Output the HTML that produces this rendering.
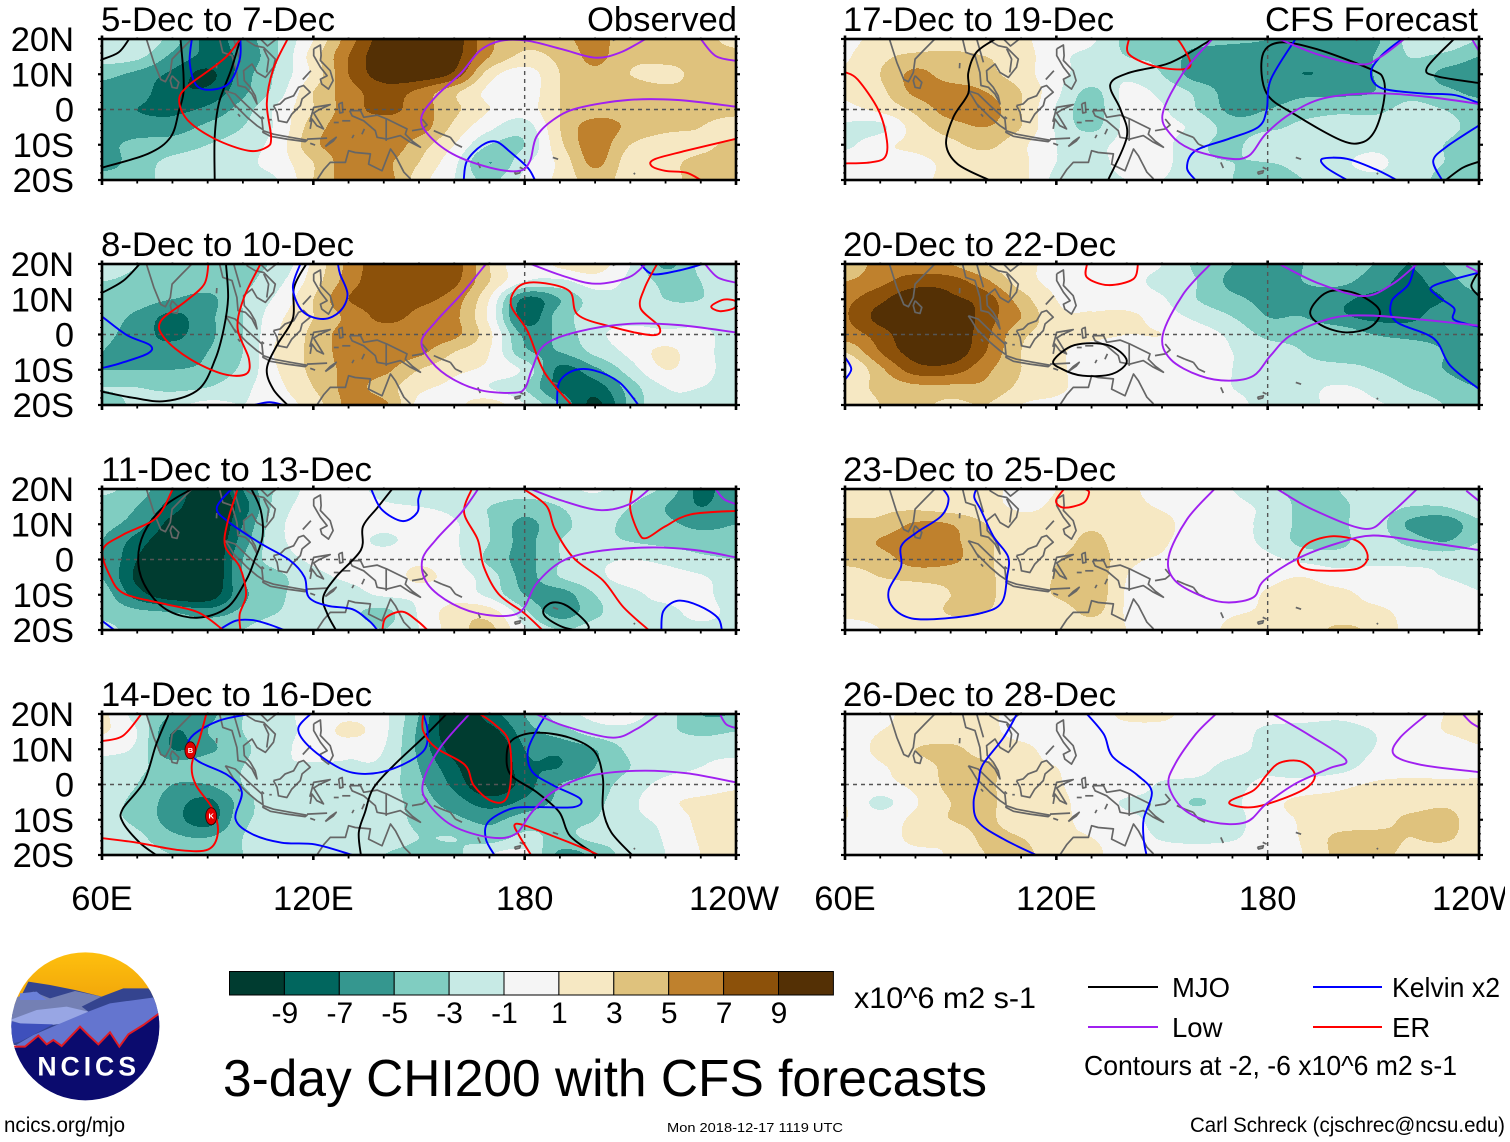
<!DOCTYPE html>
<html lang="en">
<head>
<meta charset="utf-8">
<title>3-day CHI200 with CFS forecasts</title>
<style>
html,body{margin:0;padding:0;background:#fff;width:1510px;height:1142px;overflow:hidden}
svg{display:block}
text{font-family:"Liberation Sans",sans-serif;fill:#000}
</style>
</head>
<body>
<svg id="chart" xmlns="http://www.w3.org/2000/svg" width="1510" height="1142" viewBox="0 0 1510 1142">
<rect x="0" y="0" width="1510" height="1142" fill="#fff"/>
<g id="panels"></g>
<g id="colorbar"></g>
<text x="854" y="1008" font-size="30" textLength="182" lengthAdjust="spacingAndGlyphs">x10^6 m2 s-1</text>
<text x="223" y="1096" font-size="51.5" textLength="764" lengthAdjust="spacingAndGlyphs">3-day CHI200 with CFS forecasts</text>
<g>
<line x1="1088" x2="1158" y1="987" y2="987" stroke="#000" stroke-width="2"/>
<text x="1172" y="997" font-size="27.5">MJO</text>
<line x1="1313" x2="1382" y1="987" y2="987" stroke="#0000ff" stroke-width="2"/>
<text x="1392" y="997" font-size="27.5" textLength="108" lengthAdjust="spacingAndGlyphs">Kelvin x2</text>
<line x1="1088" x2="1158" y1="1027" y2="1027" stroke="#a020f0" stroke-width="2"/>
<text x="1172" y="1037" font-size="27.5">Low</text>
<line x1="1313" x2="1382" y1="1027" y2="1027" stroke="#ff0000" stroke-width="2"/>
<text x="1392" y="1037" font-size="27.5">ER</text>
<text x="1084" y="1075" font-size="27.5" textLength="373" lengthAdjust="spacingAndGlyphs">Contours at -2, -6 x10^6 m2 s-1</text>
</g>
<g transform="translate(0,945) scale(.33333)">
<defs><clipPath id="logoClip"><circle cx="256" cy="244" r="222"/></clipPath>
<linearGradient id="sun" x1="0" y1="0" x2="0" y2="1"><stop offset="0" stop-color="#ffc20e"/><stop offset="1" stop-color="#f0a30a"/></linearGradient></defs>
<g clip-path="url(#logoClip)">
<rect x="20" y="10" width="480" height="170" fill="url(#sun)"/>
<polygon points="20,240 85,110 150,120 225,135 305,155 370,130 445,130 490,180 490,300 20,300" fill="#34448f"/>
<polygon points="30,230 40,160 100,140 150,160 225,138 305,155 245,185 265,200 30,250" fill="#7480b4"/>
<polygon points="60,145 110,140 140,165 60,165" fill="#6a80d8"/>
<polygon points="30,225 110,195 200,185 265,200 230,230 120,245 60,235" fill="#98a6e4"/>
<polygon points="20,225 60,235 160,238 60,290 20,300" fill="#3e50bc"/>
<polygon points="40,305 100,270 170,240 265,200 330,175 480,155 490,230 380,300 40,320" fill="#6475cf"/>
<path d="M20,312 L75,305 L115,272 L140,298 L160,285 L185,303 L240,245 L265,270 L295,298 L330,262 L358,305 L385,268 L430,240 L490,200 L490,480 L20,480 Z" fill="#0b0b6e"/>
<path d="M40,305 L75,305 L115,272 L140,298 L160,285 L185,303 L240,245 L265,270 L295,298 L330,262 L358,305 L385,268 L430,240 L478,205" fill="none" stroke="#e01b24" stroke-width="6"/>
<text x="112" y="392" font-size="80" font-weight="bold" style="fill:#fff" textLength="296" lengthAdjust="spacing">NCICS</text>
</g>
</g>
<text x="4" y="1132" font-size="21" textLength="121" lengthAdjust="spacingAndGlyphs">ncics.org/mjo</text>
<text x="667" y="1132" font-size="13" textLength="176" lengthAdjust="spacingAndGlyphs">Mon 2018-12-17 1119 UTC</text>
<text x="1190" y="1132" font-size="21" textLength="315" lengthAdjust="spacingAndGlyphs">Carl Schreck (cjschrec@ncsu.edu)</text>
<rect id="edgeMask" x="1505" y="880" width="5" height="40" fill="#fff"/>
</svg>
<script>
// ---------- axis data ----------
const gridLons = [60,70,80,90,100,110,120,130,140,150,160,170,180,190,200,210,220,230,240];
const gridLats = [20,15,10,5,0,-5,-10,-15,-20];
const latTickLabels = ["20N","10N","0","10S","20S"];
const latTickValues = [20,10,0,-10,-20];
const lonTickLabels = ["60E","120E","180","120W"];
const lonTickValues = [60,120,180,240];
const colorLevels = [-9,-7,-5,-3,-1,1,3,5,7,9];
const colorBands = ["#003c30","#01665e","#35978f","#80cdc1","#c7eae5","#f5f5f5","#f6e8c3","#dfc27d","#bf812d","#8c510a","#543005"];
const panelTitles = ["5-Dec to 7-Dec","8-Dec to 10-Dec","11-Dec to 13-Dec","14-Dec to 16-Dec","17-Dec to 19-Dec","20-Dec to 22-Dec","23-Dec to 25-Dec","26-Dec to 28-Dec"];

// ---------- CHI200 anomaly fields (rows 20N..20S, columns 60E..120W) ----------
const chiField1 = [
[-2.5,-1,-4,-7.5,-6,-3,1,6,10,10.5,10,5.5,3.5,4.5,5.5,4,3.5,3.5,2.5],
[-2,-2.5,-5.5,-7.5,-6.5,-3,2,7,10.5,11.5,9.8,5,2.5,3.5,5.5,3.5,3.5,3.5,3.5],
[-4.5,-5.5,-7.5,-9.5,-6,-2.5,1.5,7,10,10.5,8.5,2,0,3,4.5,3,2.5,3.5,3.5],
[-5.5,-6,-8.5,-8.5,-5.5,-2,3,6,8,6.5,3.5,0.5,-0.3,3,4,4,3.5,3.5,4],
[-6,-7,-7.5,-6.5,-4,-0.5,3,6,7.5,6,3.5,1,0,3,4,4.2,4,4,4],
[-6,-6,-6,-4.5,-3,-0.5,4,6,6,6,2.5,-0.5,-2,3,6,4.5,3.5,3,1.5],
[-5.5,-4.5,-4,-3,-2,0,4.5,6,6.5,4,1,-3,-3,2.5,6,3,2,2.5,3.5],
[-6,-4,-2.5,-2,-1.5,0,3,6,5.5,3,-0.5,-5,-1.5,1.5,5.5,2,2.5,3.5,3.5],
[-4,-4,-2,-1.5,-1.5,-1,3,6,6,2,-1,-3.5,-0.5,1.5,4,2,2.5,3.5,3.5]];
const chiField2 = [
[-1.5,-3,-3.5,-4,-3.5,-2.5,1.5,5.5,8.5,8.5,8,3,-0.5,1.5,2,-1,-5.5,-2.5,-1.5],
[-3,-3.5,-3.5,-4,-3.5,-1.5,2,6,8.5,8.5,7.5,3,-1,-1.5,0,-1.5,-3.5,-3,-1],
[-3.5,-4,-5,-5.5,-3,-0.5,3,7,8,7.5,6,1,-7.5,-5,-2,-1.5,-3,-3,-2],
[-4,-5.5,-7.5,-5.5,-3,0.5,3,5.5,7.5,6.5,5.5,0.5,-8,-4,-2,-1.5,-2,-2,-2],
[-4.5,-6,-7.5,-5.5,-3,1,3.5,6,6,6,5.5,1.5,-5.5,-4.5,-1.5,-0.5,-0.5,-0.5,-2],
[-5,-6,-6,-5,-3,1.5,3.5,6,6,5.5,3,1,-4.5,-5,-2.5,-0.5,1.5,-0.5,-1.5],
[-5,-5,-5,-4.5,-2.5,1,3.5,5.5,5.5,3,1.5,0.5,-1.5,-7.5,-5.5,-2,1,-0.5,-1.5],
[-3,-3,-3.5,-3,-1.5,0.5,3,5.5,4,1.5,0.5,-1,-3,-7.5,-8,-4,-1,-1,-1.5],
[-4,-2.5,-1.5,-0.5,-1,0,2,5.5,5.5,0.5,0.5,2,-1,-5,-9.5,-4.5,-1.5,-1.5,-1.5]];
const chiField3 = [
[-2.5,-4,-7,-11,-7,-2.5,-0.5,-0.5,-1.5,-2.5,-2,-1.5,-2,-1.5,-0.8,-2,-3.5,-7.5,-5.5],
[-4,-5,-8,-11,-8,-2,-0.5,-0.5,-0.8,-1,-1.5,-3,-4,-3,-2,-3,-5,-7,-5.5],
[-4.5,-6,-10,-12,-7,-1.5,-0.5,-0.5,-0.7,-0.5,-0.8,-3,-5.5,-3.5,-2.5,-3.5,-4.5,-5.5,-5],
[-5,-8,-11,-12,-6,-1.5,-0.5,-0.5,-1.2,-0.5,-0.8,-3,-5.5,-3,-2.5,-3,-3.5,-4,-4],
[-5,-9,-12,-12,-5,-2,-0.7,-0.3,-0.2,0.5,-0.5,-3.5,-5.5,-3,-1.5,-1,-1.5,-2.5,-3],
[-5,-9.5,-12,-12,-5,-3.5,-1.5,-0.8,-0.5,1.5,0,-2,-5.5,-3,-1.5,-0.3,-0.3,-0.8,-2],
[-4,-8,-10.5,-10.5,-5.5,-3.5,-1.5,-1.5,-0.8,-0.5,0,-1.5,-5,-6,-3,-1.5,-0.5,-0.5,-2],
[-3.5,-4.5,-5,-6,-4.5,-3,-1.5,-2.5,-3.5,-0.8,2,2,-2.5,-6,-3.5,-1.5,-1.5,-0.5,-1.5],
[-2.5,-3.5,-3.5,-3.5,-3,-1.5,-2,-1.5,-3,-1,2,3.5,-0.8,-3,-2,-1.5,-1.5,-1.5,-1.5]];
const chiField4 = [
[1.5,-2,-5,-5.5,-3,-1.5,-0.5,0.5,-0.5,-5,-11,-8,-5,-2,-0.5,-0.5,-2,-5,-5],
[1.2,-1,-7,-5,-3,-1.5,-0.5,1.5,-0.5,-5.5,-11,-10,-6,-4,-2,-1.5,-2.5,-3.5,-3],
[-0.5,-1.5,-7,-5.5,-3.5,-1.5,-0.5,-0.5,-1,-5.5,-10,-12,-7,-6.5,-5,-2.5,-1.5,-1.5,-1.5],
[-1.5,-2.5,-4,-3.5,-3,-1.2,-1.2,-1.2,-1.5,-5,-8.5,-12,-7.5,-7,-5,-3,-1.5,-1,-0.5],
[-2,-3,-5,-5,-3,-1.5,-1.5,-1.5,-2,-4.5,-7.5,-11,-8,-5,-4,-2,-0.5,-0.3,0.5],
[-2.5,-3.5,-6,-7.5,-4,-1.5,-2.5,-2,-2,-4,-6,-8,-6.5,-4.5,-3.5,-1.5,0.5,1.5,2],
[-2.5,-3.5,-6,-8,-3.5,-2.5,-2.5,-2,-2,-3.5,-4.5,-5.5,-4,-3.5,-3,-1.5,-0.5,1.5,2],
[-1.5,-2.5,-4.5,-5,-3,-1.5,-2.5,-1.5,-2,-3,-3,-4,-2.5,-3.5,-2.5,-2,-0.8,1.2,1.5],
[-1.5,-2,-3,-3.5,-3,-1.5,-1.5,-1.5,-3,-3.5,-3.5,-1,-0.5,-5.5,-4.5,-2,-1,1,1.2]];
const chiField5 = [
[0.5,1.5,1.5,2,1.5,1.5,-0.5,-0.7,-3.5,-3.5,-4,-4.5,-5,-5.5,-6,-5.5,-2.5,-1.5,-3],
[0.8,2.5,3.5,3.5,3,2,-0.5,-1.5,-3,-3.5,-6,-6.5,-6,-6,-6,-5,-3,-3.5,-5],
[1.2,3,5.5,4,3.5,2,-0.5,-1.5,-1.5,-3,-6,-6,-6,-7,-6.5,-5,-3.5,-5.5,-6],
[1.2,2.5,5.5,6,5,3,-0.5,-3.5,-0.5,-1.5,-3.5,-6,-6,-5.5,-5.5,-5,-3.5,-4.5,-5.5],
[0.5,1.5,3.5,6,6,3,-1.2,-4,-0.5,-0.8,-3,-5.5,-5,-4,-3.5,-3.5,-2.5,-3,-4],
[-1.5,-1.5,2,4,5,3,-1.2,-3.5,-0.5,-0.5,-1.5,-4,-3.5,-2.5,-2,-2,-2,-2.5,-3.5],
[-1.5,0.5,1.5,2.5,3.5,1.5,-1,-1.5,-0.5,-0.5,-2.5,-3.5,-1.5,-2.5,-2,-1.5,-2,-3,-4],
[0.5,0.5,0.5,1.5,2,1.5,-1,-1.5,-0.5,-0.5,-2.5,-3,-3,-2.5,-1.5,-0.5,-2,-3,-4],
[0.5,0.5,0.5,1.5,1.5,1.5,-1.5,-1.5,-1,-1,-2,-3,-3.5,-3,-2,-1.5,-2,-3.5,-3.5]];
const chiField6 = [
[3,6,6,5,3,1.5,0.5,-0.5,-0.5,-1,-3.5,-5,-7,-5,-4,-5,-7,-5,-4],
[5,6.5,8,8,5.5,2,0.5,0.3,-0.5,-1.5,-3,-5.5,-5.5,-5,-4.5,-6,-7.5,-6,-4],
[6.5,8.5,10.8,9.5,8,4,1,0.5,-0.2,-0.8,-3,-4.5,-5.5,-5.5,-6.5,-7.5,-7.5,-7,-5.5],
[6.8,9.8,11.5,11,8,5,1.5,1.2,1.5,0,-1.5,-3,-5,-5,-6.5,-7.5,-7.5,-6,-5.5],
[6,8,11,11,7.5,3.5,2,1.5,1,1,0,-1.5,-3.5,-3.5,-3.5,-5,-5.5,-5.5,-5.5],
[3,7,10,10.5,7,3,1.5,0,0,0,0,-1,-2,-3,-3.5,-3.5,-4,-5,-6],
[0.5,4.5,8,8,5.5,3,1.5,0,0,0,0,-1,-2,-2.5,-2.5,-3,-4,-5,-6],
[2,3.5,4.5,4.5,4.5,2.5,1.5,0,0,0,0,-1,-1.5,-1.5,-0.8,-1.5,-3,-4,-5],
[1.5,3,3.5,2.5,3,1,0.5,0,0,0,0,-0.5,-1.5,-1.5,-0.5,-0.8,-1.5,-3,-3.5]];
const chiField7 = [
[1.5,1.5,1.5,1.5,1.5,0.5,1,1.5,1.5,0,0,-1,-2.5,-3.5,-3,-1.5,-1.5,-1.5,-1.5],
[2,2.5,2.5,2,1.5,0.8,1.2,1.5,1.5,0.8,0,-0.5,-1.5,-3.5,-3.5,-2,-3,-3,-1.5],
[3.5,3.5,5.3,5,3,1.5,1.5,2.5,1.5,1.5,0,-0.5,-1.5,-3.5,-3.5,-2,-5.3,-6.5,-3.5],
[3.5,5.2,6.5,5.5,3.5,1.5,1.5,3.8,1.2,1.2,0,-0.3,-1.5,-3.5,-3.5,-2,-3.5,-5,-3],
[3.5,4,6,5.5,3.5,1.5,2.8,4.5,1.5,0.8,0,0,-0.5,-1.5,-2,-1.5,-1.5,-1.5,-1.5],
[2,3,3.5,3.5,3.5,1.5,3.2,4.5,1,0,0,0,0.5,1,0,0,-0.5,-1,-1.5],
[1.5,1.5,2,3,3.5,1.5,3.2,4.5,0.8,0,0,0,1.2,1.5,1.5,0.5,0,0,-0.8],
[1.5,1.5,1.5,3.2,3,1.5,1.5,3.5,0.8,0,0,0.8,1.2,1.5,1.5,1.5,0.5,0,0],
[0,1,1.5,1.5,1.5,1.2,1.5,1.5,1,0,0,1.5,1.5,1.5,3.5,2.5,0.5,0,0]];
const chiField8 = [
[-0.9,0.5,1.5,1.5,1.5,0,0,0,1.5,1.5,0,0,0,0,-0.5,0,0,1,1.5],
[0,1,1.5,1.5,1.5,0.3,0,0,0.2,0.2,0,0,-1.5,-2,-2,-1,0,1,1.5],
[0,1.5,3,3.5,2,1.5,0.3,0,0,0,0,-0.5,-1.5,-2,-2,-1,0,0,0.8],
[0,0.8,2,3.5,3.5,1.5,1,0,0,0,-0.5,-1.5,-1.5,-2,-1.8,-0.3,0,0,0],
[0.5,0.5,1.5,3.5,3.5,1.5,1.2,0,0,-1.2,-1.5,-1.5,-0.5,-0.3,0.5,1.2,1.5,1.5,1.5],
[1,-1.5,0.8,3,3.5,1.5,1.5,0,-1.2,-1.5,-3.2,-1.5,0.3,1.5,1.5,1.5,1.5,2.5,1.5],
[1,0,1.5,3,3.5,1.5,1.5,0.3,-0.5,-1.5,-1.5,-1.5,0,1.2,1.5,1.5,3.6,4,1.5],
[0,0,1.5,1.5,3.5,3,1.5,1,0,-1.2,-1.5,-1.2,0,1.2,3.5,4,3,3.5,1.5],
[0,0,0.5,1.2,3,3.5,2,1.5,0,0,0,0,0,1,3.5,3.6,2.5,1.5,1.5]];

// ---------- contour lines, [lon, lat] ----------
const mjo1 = [[[60,14.2],[64.7,16.2],[67.7,20]],[[82.3,20],[83.1,10.4],[83.1,4.6],[81.9,-0.2],[79.5,-7.8],[73,-12.6],[60,-16.5]],[[99.3,20],[96.7,11.4],[93.2,1.8],[92,-7.8],[92,-20]]];
const kelvin1 = [[[85.5,20],[84.9,13.3],[86.7,7],[90.8,5.6],[96.1,7.5],[99.1,14.2],[99.3,20]],[[162.7,-20],[163.6,-14.6],[167.8,-10.2],[171.9,-9.1],[176.1,-12.2],[180.9,-16.5],[182.9,-20]]];
const er1 = [[[99.3,20],[95.5,15.2],[90.8,11.4],[84.3,6.6],[81.9,2.7],[84.3,-3],[92,-8.3],[101.5,-11.7],[106.8,-10.7],[108,-7.8],[106.8,1.8],[108.6,11.4],[112.7,20]],[[240,-8.3],[225.8,-11.7],[216.9,-14.1],[216,-16],[219.9,-17.4],[225.8,-17.9],[230,-20]]];
const low1 = [[[214.3,20],[207.2,16.2],[200.1,14.7],[190.6,17.1],[180.9,19.5],[173.2,19.5],[167.3,16.7],[162,10.4],[154.8,3.7],[150.7,-2.1],[152.4,-6.9],[159.5,-12.6],[170.2,-16.5],[178.5,-17.4],[181.5,-14.6],[183.3,-7.8],[188,-3],[195.1,0.4],[209.3,2.7],[223.5,2.7],[240,0.8]],[[230,20],[234.2,15.2],[240,13.8]]];

const mjo2 = [[[60,11.8],[66,15.2],[70.7,20]],[[95.2,20],[95.8,10.4],[94.6,1.8],[92.2,-6.9],[87.5,-15.5],[78,-18.9],[68.5,-17.9],[60,-16.2]],[[118,20],[114.5,13.3],[114.2,4.6],[109.7,-3],[106.8,-9.8],[108.6,-15.5],[112.7,-20]]];
const kelvin2 = [[[60,5.1],[67.1,-0.2],[73.6,-3],[73,-5.4],[64.7,-8.3],[60,-9.5]],[[116.3,20],[114.2,13.3],[116.9,6.6],[122.8,4.4],[127.6,6.6],[129.7,11.4],[127.6,17.1],[127,20]],[[103.3,-20],[107.5,-19.2],[111.6,-20]],[[189.2,-20],[189.8,-13.6],[193.9,-10.2],[199.8,-10.2],[206.9,-13.6],[212.3,-20]],[[212.9,20],[216.4,17.1],[223.5,18.1],[230.6,20]]];
const er2 = [[[90.2,20],[89,14.2],[83.7,9.4],[76.6,3.7],[77.8,-1.1],[84.9,-6.9],[94.4,-11.2],[100.9,-11.2],[101.7,-6.9],[98.5,1.8],[100.3,10.4],[105,20]],[[193.3,-20],[185.6,-10.7],[180.9,0.8],[176.1,8.5],[178.5,13.8],[184.4,14.7],[192.7,12.3],[195.1,5.6],[204.6,2.2],[216.4,-0.2],[218.2,2.2],[212.9,7.5],[214.1,13.3],[217.6,20]],[[233,8],[236.6,9.9],[240,9.4],[239.5,7.5],[235.4,6.6],[233,8]]];
const low2 = [[[181.7,20],[190.6,16.7],[200,14.4],[209.5,16.2],[214.3,20]],[[169,20],[162,11.4],[154.8,3.7],[150.7,-2.1],[153.6,-7.8],[159.5,-12.6],[167.8,-15.9],[177.3,-16.5],[180.2,-15],[182.1,-9.8],[185.6,-3],[195.1,0.8],[209.3,3],[223.5,2.7],[240,0.6]],[[231.2,20],[234.8,16.2],[240,14.7]]];

const mjo3 = [[[85.5,20],[77.8,15.2],[71.9,7.5],[70.3,-1.1],[73,-8.8],[79,-14.6],[87.3,-16.5],[95.6,-13.6],[100.9,-5.9],[103.3,-0.2],[105.6,6.6],[105,14.2],[102.4,20]],[[142.4,20],[138.2,14.7],[134.1,9.4],[133.5,2.7],[126.4,-5],[122.8,-10.7],[124,-15.5],[126.4,-20]],[[185.4,-14.1],[188,-12.2],[192.1,-13.2],[197.5,-17.9],[197.5,-20],[191.5,-19.4],[186.2,-16.5],[185.4,-14.1]]];
const kelvin3 = [[[60,-17.4],[63.5,-20]],[[96.7,20],[92.6,14.7],[95.6,10.9],[105,4.6],[113.3,-0.2],[117.5,-5],[118.7,-10.7],[124,-13.1],[131.1,-14.1],[135.8,-17.4],[138.2,-20]],[[136.4,20],[139.4,14.2],[145.3,10.9],[149.5,13.3],[149.8,17.1],[150.7,20]],[[93.2,-20],[97.9,-17.4],[102.7,-17.2],[107.4,-18.4],[111.6,-20]],[[218.8,-20],[219.4,-14.6],[223.5,-11.7],[229.5,-13.1],[234.8,-16.5],[236,-20]]];
const er3 = [[[80.1,20],[75.4,11.8],[65.9,7],[60.2,2.7],[62.4,-5],[66.5,-9.8],[77.8,-12.6],[87.3,-15],[94.4,-20]],[[98.5,20],[95.6,10.4],[95,3.7],[99.1,-2.1],[100.9,-9.8],[99.1,-15.5],[99.3,-20]],[[139.6,-20],[140.6,-16.5],[145.3,-14.8],[149.5,-17.4],[152.4,-20]],[[165,20],[162.8,13.3],[166.7,5.6],[168.4,-2.1],[172.6,-9.8],[179.7,-15.1],[185,-20]],[[179.7,20],[186.2,15.2],[188.6,8.5],[194,0.3],[202.2,-5.9],[208.1,-13.6],[215.2,-20]],[[210.6,20],[210,14.2],[212.4,7.5],[214.6,6.1],[219.9,9.4],[227.1,12.8],[240,13.8]]];
const low3 = [[[181.7,20],[190.6,16.7],[201.3,14],[209.5,15.6],[215.4,20]],[[166.8,20],[162,13.3],[154.8,5.6],[150.9,-0.2],[152.4,-6.9],[159.5,-12.6],[169,-15.7],[178.5,-15],[183.3,-6.9],[190.4,-0.6],[199.8,2.2],[215.2,3.4],[228.2,2.7],[240,0.6]],[[234.2,20],[236.6,17.1],[240,15.7]]];

const mjo4 = [[[79,20],[75.4,11.4],[71.9,0.8],[65.9,-6.9],[65.9,-10.7],[70.7,-16.5],[75.4,-20]],[[157.8,20],[151.2,13.3],[143,5.6],[137,-1.1],[134.7,-7.8],[132.9,-13.6],[133.5,-20]],[[200.4,-20],[192.9,-14.6],[189.8,-7.8],[183.3,-2.1],[176.1,2.7],[174.9,8.5],[176.7,12.8],[183.3,14.7],[192.7,13.3],[199.8,9.4],[202.2,1.8],[202.2,-6.9],[204.6,-13.6],[210.5,-20]]];
const kelvin4 = [[[102,20],[93.2,18.1],[86.1,14.2],[84.3,10.4],[87.3,6.6],[95.6,2.7],[99.7,-2.1],[97.9,-9.8],[102.7,-14.1],[111,-16.5],[120.5,-17],[131.1,-20]],[[119.2,20],[115.7,15.7],[119.2,10.4],[127.6,4.6],[134.7,3],[143,4.6],[151.2,9.4],[152.4,15.2],[151.2,20]],[[186.2,20],[183.3,15.2],[180.9,9.4],[182.1,3.7],[188,-0.2],[195.7,-4],[194,-6.4],[183.3,-6.4],[176.1,-6.9],[169.6,-10.7],[169,-15.5],[171.4,-20]]];
const er4 = [[[60,12.3],[65.9,13.8],[71.2,20]],[[89.6,20],[87.8,13.3],[85.5,5.6],[86.7,-0.2],[91.4,-6.9],[92.9,-13.6],[90.2,-18.4],[81.9,-18.6],[70,-16.5],[60,-15.2]],[[151.2,20],[151.2,15.2],[154.8,10.4],[163,5.6],[165.5,-0.2],[170.2,-4.5],[174.4,-4.5],[176.1,1.8],[175.5,12.3],[171.4,17.1],[167.3,20]],[[181.8,-20],[178.5,-14.6],[177.1,-11.5],[179.7,-11.5],[188,-14.6],[196.3,-17.9],[201,-20]]];
const low4 = [[[183.3,20],[191,16.7],[204.6,13.3],[211.7,15.7],[218,20]],[[164.3,20],[156,10.4],[151.2,0.8],[152.4,-5],[159.5,-11.7],[170.2,-15],[177.3,-14.1],[182.1,-7.8],[188,-2.1],[197.4,2.2],[211.7,3.9],[225.9,3.2],[240,0.6]],[[235.4,20],[237.2,17.1],[240,16]]];

const mjo5 = [[[102.7,20],[97.3,16.2],[95,10.4],[95,4.6],[90.8,-2.1],[88.7,-9.8],[92,-15.5],[100.9,-20]],[[164.3,20],[152.4,13.3],[140.6,10.4],[135.3,7],[138.3,-0.2],[140,-7.8],[134.7,-20]],[[183.3,19],[178.5,15.2],[179.7,4.6],[188,-1.6],[201,-8.8],[206.9,-9.3],[210.5,-5.9],[212.9,1.8],[212.9,8.5],[209.3,11.4],[194,17.1],[183.3,19]],[[232.9,20],[225.2,11.8],[228.2,9.4],[240,7.5]],[[230.6,-20],[235.4,-16.5],[240,-14.8]]];
const kelvin5 = [[[187.9,20],[180.9,8.5],[179.7,-0.2],[177.3,-5],[169,-8.3],[159.5,-11.7],[157.1,-16.5],[159.5,-20]],[[218.1,20],[212.2,15.2],[209.3,10.4],[212.2,6.1],[223.5,4.6],[233,4.1],[240,1.8]],[[216.6,-20],[210.7,-17],[202.5,-14],[195.5,-14],[196.7,-16.5],[202.5,-20]],[[240,-4.5],[230.6,-10.7],[227,-14.6],[229.5,-20]]];
const er5 = [[[60,10.6],[63.6,8.5],[69.5,-0.2],[71.9,-8.8],[71.3,-13.6],[67.1,-15],[60,-15.3]],[[140.6,20],[140.6,15.7],[147.7,12.3],[156,11.4],[158.1,13.3],[154.8,19.5],[153,20]]];
const low5 = [[[183.3,20],[194,15.7],[206.4,12.8],[211.7,14.7],[218.8,20]],[[164.3,20],[156,10.4],[150.2,-1.1],[152.4,-7],[158.1,-11.2],[168.7,-13.9],[174.7,-13.1],[179.4,-7],[186.6,-1.1],[196,3.2],[210.2,4.6],[224.4,3.7],[240,1.6]],[[238,20],[240,16.6]]];

const mjo6 = [[[192.1,6.6],[196.9,12],[204.6,11.8],[211.7,7],[209.3,2.2],[202.2,0.6],[195.1,2.7],[192.1,6.6]],[[119.2,-7.4],[125.2,-3],[134.7,-3],[140,-7.4],[135.8,-11.2],[127.5,-11.7],[121.6,-9.8],[119.2,-7.4]],[[240,18],[237.8,13.8],[240,10.9]]];
const kelvin6 = [[[60,-6.4],[61.8,-9.8],[60,-12.8]],[[221.8,20],[220,14.2],[215.2,9.4],[216.4,3.7],[227.1,-1.1],[231.8,-8.8],[240,-15.5]],[[240,17.6],[227,13.8],[228.2,10.9],[232.9,7.5],[232.9,4.2],[240,2.2]]];
const er6 = [[[128.7,20],[128.7,16.2],[134.7,14],[141.8,15.7],[143.2,20]]];
const low6 = [[[183.3,20],[194,14.7],[207,10.9],[215.3,14.2],[222.4,20]],[[163.8,20],[156,11.4],[150.2,-0.2],[152.4,-7],[160.7,-11.7],[169,-13.1],[176,-11.7],[180.9,-5.9],[186.6,-0.2],[198,4.6],[208.6,5.4],[224,4.2],[240,2.5]],[[236.4,19.5],[240,17.6]]];

const mjo7 = [];
const kelvin7 = [[[87.8,20],[89.4,17.1],[87.3,12.3],[80.1,7.5],[75.9,3.7],[75.9,-2.1],[72.4,-8.8],[73.6,-13.6],[78.9,-16.7],[88.4,-16.7],[99.1,-15.1],[104.5,-12.2],[106,-5],[106.3,0.8],[102.1,6.6],[98.5,14.2],[96.7,17.6],[97.3,20]]];
const er7 = [[[122.2,20],[119.9,16.6],[122.2,14.7],[127.6,16],[129.3,19],[128.1,20]],[[188.6,0.3],[191.5,4.6],[198.6,6.6],[205.7,5.1],[208.4,0.8],[205.7,-2.5],[197.5,-3.2],[190.4,-2.5],[188.6,0.3]]];
const low7 = [[[182.7,20],[192.7,14.2],[207.5,8.7],[214,12.3],[222.4,20]],[[164.9,20],[157.1,11.4],[151.9,0.8],[153.6,-5.9],[162,-10.7],[169,-12.2],[176,-10.7],[179,-5.9],[188.6,0.3],[199.8,4.6],[209.9,6.8],[223.5,5.1],[240,2.7]],[[236.4,19.5],[240,16.6]]];

const mjo8 = [];
const kelvin8 = [[[108.8,20],[105,13.3],[99.1,5.6],[97.9,0.8],[96.5,-5],[97.9,-10.7],[105,-15.5],[114.3,-20]],[[128.7,20],[133.5,14.2],[135.9,8],[143,2.7],[147.1,-2.1],[144.8,-9.8],[144.8,-15.5],[145.6,-20]]];
const er8 = [[[169.6,-4.5],[176.1,-1.6],[179.7,2.7],[183.3,6.1],[189.2,6.6],[193.3,3.2],[191.5,-0.6],[184.4,-4],[176.1,-6.4],[170.2,-5.9],[169.6,-4.5]]];
const low8 = [[[181.5,20],[191.5,14.2],[202.2,7],[197.5,4.6],[188,0.3],[179.7,-5.4],[173.8,-10.7],[164.3,-10.7],[156,-6.9],[151.9,-0.2],[153.6,5.6],[159.5,14.2],[165.3,20]],[[225.3,20],[217.6,13.3],[215.8,8.5],[223.5,5.6],[240,3.5]],[[235.4,20],[237.7,17.6],[240,16.2]]];

// ---------- geography, [lon, lat] ----------
const coastlines = [
[[72.6,20],[74.7,13.4],[76.7,8.5],[78,7.9],[79.4,10.5],[79.9,14.3],[82.7,17.2],[85.5,20]],
[[79.9,9.6],[81.8,7.7],[81.3,6],[79.9,6.3],[79.4,8.2],[79.9,9.6]],
[[92.6,13.2],[92.5,11.7]],
[[93.4,20],[94.3,16.2],[96.9,15.3],[98.3,10.5],[98.6,6.8],[100.7,6.3],[102.6,4.4],[104,1.6],[103.5,3.9],[102.1,6.3],[100.4,8.2],[100.2,11],[102.6,12.9],[104,10.5],[106.4,9.1],[108.7,12],[109.2,14.3],[105.9,17.6],[103.5,18.1],[101.2,19.5],[101.2,20]],
[[97.4,20],[99.3,13.4]],[[105.9,17.2],[107.3,14.3],[106.8,10.5]],[[105,20],[107,18],[109.5,20]],
[[95,5.3],[97.8,4.4],[101.2,1.1],[105.4,-2.7],[105.7,-5.7],[104,-4.6],[101.2,-2.2],[97.4,1.6],[96,3.9],[95,5.3]],
[[97.5,1.5],[98,0.5]],[[98.6,-1.3],[99.2,-2]],[[105.3,-2],[106,-2.6]],[[107.5,-2.9],[108.2,-2.9]],
[[105.7,-6],[108.7,-7],[113.5,-7.9],[118.2,-8.7],[117.7,-9.1],[112.5,-8.4],[107.8,-7.6],[105.7,-6.5],[105.7,-6]],
[[118.2,-8.4],[123.9,-8.1]],[[123.4,-10.5],[125.7,-8.9],[126.5,-7.9],[124.8,-9.1],[123.4,-10.5]],[[119.1,-9.6],[120.5,-10.1]],
[[108.7,1.1],[110.6,1.6],[112,3],[114.4,3.9],[115.8,6.3],[117.2,6.8],[119.1,4.9],[116.8,3],[116.3,1.1],[113.9,-1.3],[112.5,-3.7],[110.1,-3.2],[109.7,-0.8],[108.7,1.1]],
[[117,8.5],[119.3,11]],
[[120.1,17.2],[122,18.3],[122.2,15.3],[122,13.9],[124.8,11],[125.6,8.2],[124.3,5.8],[122.4,7.2],[122,8.6],[123.9,9.6],[122,12],[120.1,15.3],[120.1,17.2]],
[[119,-3.5],[120.1,0.6],[124.8,1.4],[121.5,-0.1],[120.1,-1],[122.9,-5.5],[121,-4.6],[119.6,-2.7],[119.1,-5.5]],
[[127.2,1.6],[128.2,2],[128.4,-0.8],[127.5,-1],[127.2,1.6]],
[[128.2,-3.2],[130.5,-3.2]],[[125.8,-3.7],[127.2,-3.7]],[[133.8,-7],[134.5,-5.5]],[[131,-8.1],[131.5,-7.2]],
[[130.3,-0.3],[133.4,-0.3],[134.3,-2.2],[138.1,-1.6],[140.9,-2.7],[146.6,-5.5],[146.1,-7],[148,-8.9],[150.4,-10.7],[147.6,-9.3],[144.7,-7.4],[140.9,-8.4],[138.1,-7.9],[137.6,-6],[134.3,-3.2],[131,-1.8],[130.3,-0.3]],
[[140.7,-2.5],[140.7,-8.9]],
[[148,-6],[150.9,-5.5],[152.3,-4.4],[150.9,-2.7]],
[[154.2,-6],[156.5,-7]],[[156.5,-7],[158.9,-7.9]],[[158.9,-7.9],[160.3,-9.8]],[[160.3,-9.8],[162.2,-10.7]],
[[166.7,-15],[167.4,-16.6]],
[[177.1,-17.8],[178.8,-17.4],[178.6,-18],[177.4,-18.3],[177.1,-17.8]],[[178.6,-16.4],[179.7,-16.9]],
[[121,-20],[123,-17],[124.8,-15],[129.1,-15],[130,-11.7],[131.9,-12.2],[136.2,-12.6],[135.7,-15.5],[139.5,-17.4],[141.9,-11.2],[143.3,-13.1],[145.7,-17.8],[147.6,-19.7]],
[[188,-13.6],[189.5,-14.1]],[[211,-18],[211.3,-18.4]],[[205,19.6],[206,20]]
];
const stormNames = ["B","K"];
const stormLons = [85.1,91];
const stormLats = [9.7,-9];

// ---------- scales and helpers ----------
const panelW = 634, panelH = 141;
const panelXs = [102,102,102,102,845,845,845,845];
const panelYs = [39,264,489,714,39,264,489,714];
const SVGNS = "http://www.w3.org/2000/svg";
const root = document.getElementById("panels");
function xScale(lon, i){ return panelXs[i] + (lon-60)/180*panelW; }
function yScale(lat, i){ return panelYs[i] + (20-lat)/40*panelH; }
function make(tag, attrs, parent){
  const el = document.createElementNS(SVGNS, tag);
  for (const k in attrs) el.setAttribute(k, attrs[k]);
  parent.appendChild(el);
  return el;
}
function crHermite(a,b,c,d,t){
  return 0.5*((2*b)+(-a+c)*t+(2*a-5*b+4*c-d)*t*t+(-a+3*b-3*c+d)*t*t*t);
}
function bandIndex(v){
  let k = 0;
  while (k < colorLevels.length && v >= colorLevels[k]) k++;
  return k;
}
function smoothPath(pts, i){
  const p = pts.map(q => [xScale(q[0], i), yScale(q[1], i)]);
  const n = p.length;
  const closed = n > 3 && p[0][0] === p[n-1][0] && p[0][1] === p[n-1][1];
  const at = j => {
    if (closed) { const m = n-1; return p[((j%m)+m)%m]; }
    return p[Math.max(0, Math.min(n-1, j))];
  };
  let d = "M" + p[0][0].toFixed(1) + " " + p[0][1].toFixed(1);
  for (let j = 0; j < n-1; j++) {
    const a = at(j-1), b = at(j), c = at(j+1), e = at(j+2);
    d += "C" + (b[0]+(c[0]-a[0])/6).toFixed(1) + " " + (b[1]+(c[1]-a[1])/6).toFixed(1) + " "
      + (c[0]-(e[0]-b[0])/6).toFixed(1) + " " + (c[1]-(e[1]-b[1])/6).toFixed(1) + " "
      + c[0].toFixed(1) + " " + c[1].toFixed(1);
  }
  return d;
}
function drawField(field, i, parent){
  const nr = gridLats.length, nc = gridLons.length;
  const paths = colorBands.map(() => "");
  for (let py = 0; py < panelH; py++) {
    const v = (py+0.5)/panelH*(nr-1);
    const r = Math.min(nr-2, Math.floor(v)), tv = v-r;
    const r0 = field[Math.max(0,r-1)], r1 = field[r], r2 = field[r+1], r3 = field[Math.min(nr-1,r+2)];
    const col = [];
    for (let c = 0; c < nc; c++) col.push(crHermite(r0[c], r1[c], r2[c], r3[c], tv));
    let start = 0, cur = -1;
    for (let px = 0; px <= panelW; px++) {
      let k = -2;
      if (px < panelW) {
        const u = (px+0.5)/panelW*(nc-1);
        const c = Math.min(nc-2, Math.floor(u)), tu = u-c;
        k = bandIndex(crHermite(col[Math.max(0,c-1)], col[c], col[c+1], col[Math.min(nc-1,c+2)], tu));
      }
      if (k !== cur) {
        if (cur >= 0) paths[cur] += "M"+(panelXs[i]+start)+" "+(panelYs[i]+py)+"h"+(px-start)+"v1h"+(start-px)+"z";
        cur = k; start = px;
      }
    }
  }
  paths.forEach((d, k) => {
    if (!d) return;
    const el = make("path", {d:d, fill:colorBands[k], "shape-rendering":"crispEdges"}, parent);
    
    
  });
}
function drawContours(list, color, i, parent, label){
  list.forEach(pts => {
    const el = make("path", {d:smoothPath(pts, i), fill:"none", stroke:color, "stroke-width":"1.9"}, parent);
    
    
  });
}
function addText(str, x, y, size, anchor, width, parent, label){
  const el = make("text", {x:x, y:y, "font-size":size, "text-anchor":anchor}, parent);
  if (width) { el.setAttribute("textLength", width); el.setAttribute("lengthAdjust", "spacingAndGlyphs"); }
  el.textContent = str;
  
  
  return el;
}
function tick(x1,y1,x2,y2,w,parent){
  const el = make("line", {x1:x1,y1:y1,x2:x2,y2:y2,stroke:"#000","stroke-width":w}, parent);
  
  
}

// ---------- draw panels ----------
const fields = [chiField1,chiField2,chiField3,chiField4,chiField5,chiField6,chiField7,chiField8];
const mjoSets = [mjo1,mjo2,mjo3,mjo4,mjo5,mjo6,mjo7,mjo8];
const lowSets = [low1,low2,low3,low4,low5,low6,low7,low8];
const kelvinSets = [kelvin1,kelvin2,kelvin3,kelvin4,kelvin5,kelvin6,kelvin7,kelvin8];
const erSets = [er1,er2,er3,er4,er5,er6,er7,er8];
const titleWidths = [234,253,271,271,271,273,273,273];

fields.forEach((field, i) => {
  const g = make("g", {}, root);
  
  
  const defs = make("defs", {}, g);
  const clip = make("clipPath", {id:"clip"+i}, defs);
  make("rect", {x:panelXs[i], y:panelYs[i], width:panelW, height:panelH}, clip);
  const inner = make("g", {"clip-path":"url(#clip"+i+")"}, g);
  
  
  drawField(field, i, inner);

  coastlines.forEach(line => {
    const d = line.map((q,j) => (j?"L":"M")+xScale(q[0],i).toFixed(1)+" "+yScale(q[1],i).toFixed(1)).join("");
    const el = make("path", {d:d, fill:"none", stroke:"#666", "stroke-width":"1.7", "stroke-linejoin":"round"}, inner);
    
    
  });

  const eq = make("line", {x1:xScale(60,i), x2:xScale(240,i), y1:yScale(0,i), y2:yScale(0,i), stroke:"#555", "stroke-width":"1.4", "stroke-dasharray":"4 4"}, inner);
  
  
  const dl = make("line", {x1:xScale(180,i), x2:xScale(180,i), y1:yScale(20,i), y2:yScale(-20,i), stroke:"#555", "stroke-width":"1.4", "stroke-dasharray":"4 4"}, inner);
  
  

  drawContours(mjoSets[i], "#000000", i, inner, "mjo-contour");
  drawContours(kelvinSets[i], "#0000ff", i, inner, "kelvin-contour");
  drawContours(erSets[i], "#ff0000", i, inner, "er-contour");
  drawContours(lowSets[i], "#a020f0", i, inner, "low-contour");

  if (i === 3) {
    stormNames.forEach((nm, s) => {
      const cx = xScale(stormLons[s], i), cy = yScale(stormLats[s], i);
      const e = make("ellipse", {cx:cx, cy:cy, rx:5.5, ry:8.5, fill:"#e00000", stroke:"#300", "stroke-width":"0.8"}, inner);
      
      
      const t = make("text", {x:cx, y:cy+2.5, "font-size":"7.5", "font-weight":"bold", "text-anchor":"middle", style:"fill:#fff"}, inner);
      t.textContent = nm;
      
      
    });
  }

  const frame = make("rect", {x:panelXs[i], y:panelYs[i], width:panelW, height:panelH, fill:"none", stroke:"#000", "stroke-width":"2.6"}, g);
  
  

  const x0 = panelXs[i], x1 = x0+panelW, y0 = panelYs[i], y1 = y0+panelH;
  gridLons.forEach(lon => {
    const x = xScale(lon,i);
    const major = lonTickValues.indexOf(lon) >= 0;
    tick(x, y1, x, y1+(major?5:3.5), major?2.6:1.8, g);
    tick(x, y0, x, y0-(major?3.5:1.5), major?2.6:1.8, g);
  });
  for (let lat = -20; lat <= 20; lat += 2) {
    const y = yScale(lat,i);
    const major = lat % 10 === 0;
    const len = major ? 4 : 2;
    const w = major ? 2.2 : 1;
    tick(x0, y, x0-len, y, w, g);
    tick(x1, y, x1+len, y, w, g);
  }

  addText(panelTitles[i], panelXs[i]-(i<4?1:2), panelYs[i]-8, 34.5, "start", titleWidths[i], g, "panel-title");
  if (i === 0) addText("Observed", 737, 31, 34.5, "end", 150, g, "observed-label");
  if (i === 4) addText("CFS Forecast", 1478, 31, 34.5, "end", 213, g, "forecast-label");

  latTickLabels.forEach((lab, k) => {
    if (i >= 4) return;
    addText(lab, 74, yScale(latTickValues[k],i)+12, 34.5, "end", 0, g, "lat-tick-label");
  });
  if (i === 3 || i === 7) {
    lonTickLabels.forEach((lab, k) => {
      const nudge = k === 3 ? 2 : 0;
      addText(lab, xScale(lonTickValues[k],i)-nudge, 910, 34.5, "middle", 0, g, "lon-tick-label");
    });
  }
});

// ---------- colorbar ----------
const cb = document.getElementById("colorbar");
const cbX = 229.5, cbW = 54.9, cbY = 971.5, cbH = 23.5;
colorBands.forEach((c, k) => {
  const r = make("rect", {x:cbX+k*cbW, y:cbY, width:cbW, height:cbH, fill:c, stroke:"#000", "stroke-width":"1"}, cb);
  
  
});
colorLevels.forEach((v, k) => {
  addText(String(v), cbX+(k+1)*cbW+0.5, 1023, 30, "middle", 0, cb, "colorbar-tick-label");
});
</script>
</body>
</html>
